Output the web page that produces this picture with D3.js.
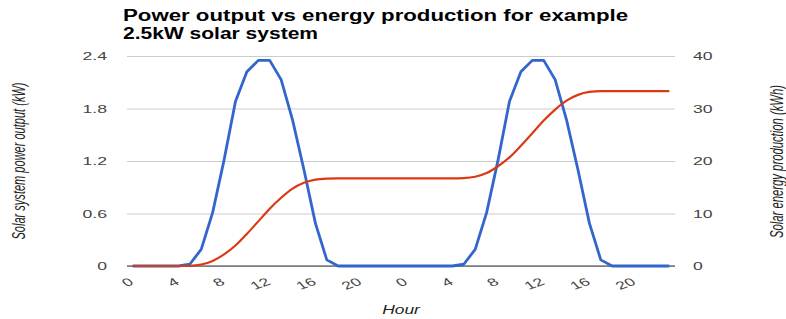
<!DOCTYPE html>
<html><head><meta charset="utf-8">
<script src="https://cdn.jsdelivr.net/npm/d3@7"></script>
<style>html,body{margin:0;padding:0;background:#fff;}svg{display:block}</style>
</head><body>
<svg id="c" width="786" height="319"></svg>
<script>
// Hour-of-day category labels (two days)
const hours = [0,1,2,3,4,5,6,7,8,9,10,11,12,13,14,15,16,17,18,19,20,21,22,23,
               0,1,2,3,4,5,6,7,8,9,10,11,12,13,14,15,16,17,18,19,20,21,22,23];
// Solar system power output (kW), left axis
const power = [0,0,0,0,0,0.02,0.19,0.61,1.21,1.88,2.22,2.35,2.35,2.13,1.67,1.10,0.49,0.07,0,0,0,0,0,0,
               0,0,0,0,0,0.02,0.19,0.61,1.21,1.88,2.22,2.35,2.35,2.13,1.67,1.10,0.49,0.07,0,0,0,0,0,0];
// Solar energy production (kWh), right axis
const energy = [0,0,0,0,0,0.04,0.28,0.95,2.2,3.9,6.1,8.5,10.9,13.0,14.75,15.85,16.45,16.65,16.7,16.7,16.7,16.7,16.7,16.7,
                16.7,16.7,16.7,16.7,16.7,16.75,17.0,17.7,19.0,20.7,22.9,25.3,27.7,29.8,31.5,32.6,33.15,33.3,33.3,33.3,33.3,33.3,33.3,33.3];
const leftTicks = [0, 0.6, 1.2, 1.8, 2.4];
const leftTickLabels = ["0", "0.6", "1.2", "1.8", "2.4"];
const rightTicks = [0, 10, 20, 30, 40];
const xTickIndex = [0,4,8,12,16,20,24,28,32,36,40,44];
const titleLines = ["Power output vs energy production for example", "2.5kW solar system"];
const leftTitle = "Solar system power output (kW)";
const rightTitle = "Solar energy production (kWh)";
const xTitle = "Hour";

const svg = d3.select("#c");
const X0 = 127, X1 = 675, Y0 = 266, Y1 = 56, SX = 1.6;
const idx = power.map((d, i) => i);
const x = d3.scaleBand().domain(idx).range([X0, X1]);
const cx = i => x(i) + x.bandwidth() / 2;
const yL = d3.scaleLinear().domain([0, 2.4]).range([Y0, Y1]);
const yR = d3.scaleLinear().domain([0, 40]).range([Y0, Y1]);
const FONT = "'Liberation Sans', Arial, sans-serif";

// gridlines
const grid = svg.append("g").attr("transform", `translate(${X0},0)`)
  .call(d3.axisLeft(yL).tickValues(leftTicks).tickSize(-(X1 - X0)).tickFormat(""));
grid.select(".domain").remove();
grid.selectAll("line").attr("stroke", "#cccccc").attr("stroke-width", 1);

// baseline
svg.append("line").attr("x1", X0).attr("x2", X1).attr("y1", yL(0)).attr("y2", yL(0))
  .attr("stroke", "#333").attr("stroke-width", 1);

// left axis labels
const ax = svg.append("g").attr("transform", `translate(${X0},0)`)
  .call(d3.axisLeft(yL).tickValues(leftTicks).tickSize(0).tickFormat((d, i) => leftTickLabels[i]));
ax.select(".domain").remove();
ax.selectAll("text").attr("x", -20 / SX).attr("transform", `scale(${SX},1)`)
  .attr("font-family", FONT).attr("font-size", 11).attr("fill", "#444");

// right axis labels
const ar = svg.append("g").attr("transform", `translate(${X1},0)`)
  .call(d3.axisRight(yR).tickValues(rightTicks).tickSize(0));
ar.select(".domain").remove();
ar.selectAll("text").attr("x", 18 / SX).attr("transform", `scale(${SX},1)`)
  .attr("font-family", FONT).attr("font-size", 11).attr("fill", "#444");

// x axis labels (slanted)
const axb = svg.append("g").attr("transform", `translate(0,${Y0})`)
  .call(d3.axisBottom(x).tickValues(xTickIndex).tickSize(0).tickFormat(i => hours[i]));
axb.select(".domain").remove();
axb.selectAll("text").attr("x", 0).attr("y", 0).attr("dy", 0)
  .attr("text-anchor", "end")
  .attr("transform", `translate(2,18) scale(${SX},1) rotate(-30)`)
  .attr("font-family", FONT).attr("font-size", 11).attr("fill", "#444");

// lines
const lineP = d3.line().x((d, i) => cx(i)).y(d => yL(d));
const lineE = d3.line().x((d, i) => cx(i)).y(d => yR(d)).curve(d3.curveMonotoneX);
svg.append("path").datum(power).attr("d", lineP).attr("fill", "none")
  .attr("stroke", "#3366cc").attr("stroke-width", 2.8).attr("stroke-linejoin", "round");
svg.append("path").datum(energy).attr("d", lineE).attr("fill", "none")
  .attr("stroke", "#dc3912").attr("stroke-width", 2.2).attr("stroke-linejoin", "round");

// title
const tl = [[123, 21, 505], [123, 39, 195]];
titleLines.forEach((t, i) => {
  svg.append("text").attr("x", tl[i][0]).attr("y", tl[i][1]).text(t)
    .attr("font-family", FONT).attr("font-weight", "bold").attr("font-size", 16)
    .attr("fill", "#000").attr("textLength", tl[i][2]).attr("lengthAdjust", "spacingAndGlyphs");
});

// axis titles
svg.append("text").text(leftTitle)
  .attr("transform", `translate(24.5,161) scale(${SX},1) rotate(-90)`)
  .attr("text-anchor", "middle").attr("font-family", FONT).attr("font-style", "italic")
  .attr("font-size", 12).attr("fill", "#222").attr("textLength", 157).attr("lengthAdjust", "spacingAndGlyphs");
svg.append("text").text(rightTitle)
  .attr("transform", `translate(783,161.5) scale(${SX},1) rotate(-90)`)
  .attr("text-anchor", "middle").attr("font-family", FONT).attr("font-style", "italic")
  .attr("font-size", 12).attr("fill", "#222").attr("textLength", 153).attr("lengthAdjust", "spacingAndGlyphs");
svg.append("text").text(xTitle)
  .attr("transform", `translate(401,314) scale(1.45,1)`)
  .attr("text-anchor", "middle").attr("font-family", FONT).attr("font-style", "italic")
  .attr("font-size", 12).attr("fill", "#222");
</script>
</body></html>
